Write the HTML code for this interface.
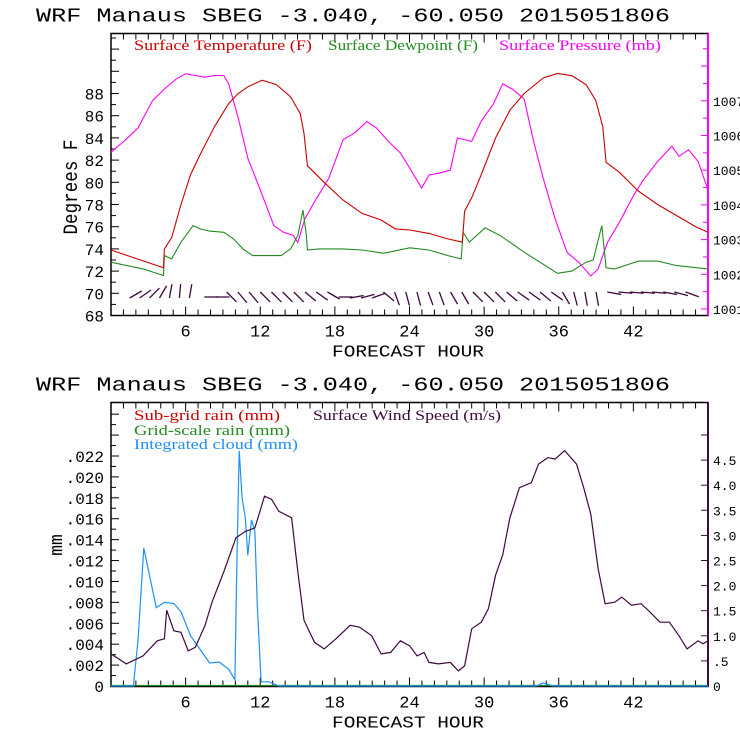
<!DOCTYPE html>
<html><head><meta charset="utf-8"><style>
html,body{margin:0;padding:0;background:#fff}
svg{display:block}
.t{font-family:"Liberation Mono",monospace;}
.s{font-family:"Liberation Serif",serif;font-size:15px}
</style></head><body>
<svg id="c" width="740" height="740" xmlns="http://www.w3.org/2000/svg">
<g id="top"></g>
<g id="bot"></g>
</svg>
<script>
// ---- top panel data ----
const tempHours=[0,4.21,4.29,4.87,5.63,6.4,7.16,8.31,9.46,10.23,11,12.15,13.3,14.44,15.21,15.52,15.79,17.13,18.66,20.19,21.72,22.87,24.02,25.56,27.09,28.24,28.31,28.43,29,29.77,30.92,32.07,33.22,34.75,35.9,37.05,38.2,38.97,39.54,39.81,40.88,42.41,43.95,45.48,47.01,48];
const tempVals=[73.9,72.3,74,75,78,80.7,82.5,85,87.1,88,88.6,89.2,88.8,87.7,86.2,84.4,81.5,80,78.4,77.2,76.6,75.8,75.7,75.4,74.9,74.6,75.5,77.4,78.6,80.7,84,86.5,88,89.4,89.8,89.6,88.8,87.4,85,81.8,80.9,79.2,78,77,76,75.5];
const dewHours=[0,2.57,4.21,4.29,4.87,5.63,6.21,6.59,7.16,7.93,9.08,9.85,10.61,11.38,12.53,13.68,14.44,15.02,15.44,15.71,15.79,16.74,18.66,20.19,21.92,24.02,25.56,27.09,28.16,28.31,28.81,30.08,31.3,33.22,35.9,37.05,38.2,38.77,39.46,39.81,40.5,42.41,43.95,45.48,48];
const dewVals=[72.8,72.2,71.6,73.4,73.1,74.6,75.5,76.1,75.8,75.6,75.5,74.9,74,73.4,73.4,73.4,74,75.2,77.5,75.2,73.9,74,74,73.9,73.6,74.1,73.9,73.4,73.1,75.5,74.6,75.9,75.2,73.7,71.8,72,72.8,73,76.1,72.3,72.2,72.9,72.9,72.5,72.2];
const presHours=[0,1.03,2.18,3.33,4.29,5.25,6.02,6.78,7.55,8.31,9.08,9.46,10.23,11,11.95,13.1,13.87,14.64,15.02,15.59,16.36,17.51,18.66,19.62,20.57,21.34,22.3,23.26,24.02,24.98,25.56,26.32,27.28,27.85,29,29.77,30.73,31.49,32.26,33.22,33.98,34.75,35.71,36.67,37.62,38.58,39.16,39.92,40.88,42.03,42.8,43.95,45.1,45.67,46.44,47.2,48];
const presVals=[1005.52,1005.83,1006.22,1007.0,1007.34,1007.63,1007.78,1007.73,1007.68,1007.73,1007.73,1007.49,1006.51,1005.35,1004.48,1003.4,1003.21,1003.12,1002.92,1003.6,1004.09,1004.77,1005.88,1006.08,1006.4,1006.22,1005.83,1005.5,1005.06,1004.48,1004.86,1004.91,1005.0,1005.93,1005.83,1006.42,1006.9,1007.49,1007.34,1007.05,1005.83,1004.77,1003.6,1002.63,1002.34,1001.95,1002.15,1002.92,1003.5,1004.28,1004.72,1005.25,1005.69,1005.4,1005.59,1005.25,1004.43];
const barbHours=[1.5,2.3,3.1,3.9,4.7,5.5,6.3,7.5,8.4,9.3,10.2,11.1,12,12.9,13.8,14.7,15.6,16.5,17.4,18.3,19.2,20.1,21,21.9,22.8,23.7,24.6,25.5,26.4,27.3,28.2,29.1,30,30.9,31.8,32.7,33.6,34.5,35.4,36.3,37.2,38.1,39,39.9,40.8,41.7,42.6,43.5,44.4,45.3,46.2];
const barbAngles=[-30,-35,-45,-60,-80,-85,-80,0,0,45,50,50,45,45,45,45,40,35,30,0,-10,-15,-20,40,70,75,75,70,70,60,60,45,45,45,40,35,35,40,35,60,75,80,80,10,5,5,5,5,10,15,20];
const leftTicks=[68,70,72,74,76,78,80,82,84,86,88];
const rightTicks=[1001,1002,1003,1004,1005,1006,1007];
const hourTicks=[6,12,18,24,30,36,42];
// ---- bottom panel data ----
const windHours=[0,1.23,2.57,3.72,4.29,4.48,5.06,5.63,6.21,6.78,7.55,8.12,9.08,10.04,10.8,11.57,12.34,12.91,13.49,14.52,15.02,15.52,16.36,17.13,18.08,19.23,20,20.96,21.72,22.49,23.26,24.02,24.6,25.17,25.56,26.32,27.28,27.93,28.43,29,29.77,30.34,30.92,31.49,32.07,32.84,33.79,34.37,35.13,35.71,36.48,37.43,38.01,38.58,39.16,39.73,40.5,41.07,41.84,42.61,43.18,44.14,44.9,45.67,46.32,47.2,47.59,48];
const windVals=[0.64,0.44,0.6,0.9,0.94,1.51,1.1,1.07,0.7,0.77,1.2,1.67,2.28,2.95,3.08,3.15,3.78,3.72,3.48,3.35,2.28,1.31,0.87,0.74,0.94,1.21,1.17,1.0,0.64,0.67,0.9,0.8,0.6,0.67,0.47,0.44,0.47,0.3,0.4,1.14,1.27,1.54,2.21,2.61,3.35,3.95,4.05,4.42,4.55,4.52,4.69,4.42,3.95,3.42,2.34,1.64,1.67,1.77,1.61,1.64,1.51,1.27,1.27,1.0,0.74,0.9,0.84,0.9];
const cloudHours=[0,1.8,2.18,2.64,3.14,3.64,4.29,5.06,5.63,6.4,7.16,7.93,8.7,9.46,9.96,10.11,10.31,10.54,10.8,11,11.3,11.57,11.76,12.07,12.72,13.49,34.18,34.75,35.52,48];
const cloudVals=[0,0,0.0045,0.0132,0.0103,0.0075,0.008,0.0079,0.0071,0.0048,0.0035,0.0022,0.0023,0.0016,0.0006,0.0109,0.0225,0.018,0.0161,0.0125,0.0159,0.0148,0.0077,0.0004,0.0004,0,0,0.0003,0,0];
const mmTicks=[0,.002,.004,.006,.008,.010,.012,.014,.016,.018,.020,.022];
const mmLabels=["0",".002",".004",".006",".008",".010",".012",".014",".016",".018",".020",".022"];
const wsTicks=[0,0.5,1,1.5,2,2.5,3,3.5,4,4.5];
const wsLabels=["0",".5","1.0","1.5","2.0","2.5","3.0","3.5","4.0","4.5"];

const NS="http://www.w3.org/2000/svg";
function mk(parent,tag,attrs,txt){const e=document.createElementNS(NS,tag);for(const k in attrs)e.setAttribute(k,attrs[k]);if(txt!==undefined)e.textContent=txt;parent.appendChild(e);return e;}
const L=111,R=708;
const X=h=>L+h*(R-L)/48;
function pathOf(hs,vs,fy){return hs.map((h,i)=>(i?'L':'M')+X(h).toFixed(1)+' '+fy(vs[i]).toFixed(1)).join(' ');}

function panel(g,top,bottom,tickColR){
  let e=mk(g,'text',{x:36,y:top-12,'font-size':19,class:'t',textLength:634,lengthAdjust:'spacingAndGlyphs'},'WRF  Manaus SBEG   -3.040, -60.050  2015051806');
  
  e=mk(g,'rect',{x:L,y:top,width:R-L,height:bottom-top,fill:'none',stroke:'#000','stroke-width':1.5});
  
  e=mk(g,'line',{x1:R,y1:top,x2:R,y2:bottom,stroke:tickColR,'stroke-width':2});
  
  for(let h=1;h<48;h++){const x=X(h);const len=(h%6==0)?9:6;
    mk(g,'line',{x1:x,y1:bottom,x2:x,y2:bottom-len,stroke:'#000'});
    mk(g,'line',{x1:x,y1:top,x2:x,y2:top+len,stroke:'#000'});}
  hourTicks.forEach(h=>{const t=mk(g,'text',{x:X(h),y:bottom+21,'font-size':17,'text-anchor':'middle',class:'t'},String(h));
    });
  e=mk(g,'text',{x:408,y:bottom+41,'font-size':17,'text-anchor':'middle',class:'t',textLength:152,lengthAdjust:'spacingAndGlyphs'},'FORECAST HOUR');
  
}
function legend(g,txt,x,y,w,col,name){
  const t=mk(g,'text',{x:x,y:y,fill:col,class:'s',textLength:w,lengthAdjust:'spacingAndGlyphs'},txt);
  
}

// ---- TOP ----
const gT=document.getElementById('top');
const T0=33.5,T1=315.5;
const YF=f=>315.5-(f-68)*11.1;
const YP=p=>309-(p-1001)*34.7;
panel(gT,T0,T1,"#ff00ff");
for(let f=68;f<=93;f++){const y=YF(f);if(y<T0)break;mk(gT,'line',{x1:L,y1:y,x2:L+(f%2==0?8:5),y2:y,stroke:'#000'});}
for(let p=1001;p<=1008.5;p+=0.5){const y=YP(p);if(y<T0)break;mk(gT,'line',{x1:R,y1:y,x2:R-(p%1==0?7:5),y2:y,stroke:'#ff00ff'});}
leftTicks.forEach(v=>{const t=mk(gT,'text',{x:104,y:YF(v)+6,'font-size':16,'text-anchor':'end',class:'t'},String(v));
  });
rightTicks.forEach(v=>{const t=mk(gT,'text',{x:713,y:YP(v)+5,'font-size':13,class:'t'},String(v));
  });
let e=mk(gT,'text',{x:0,y:0,'font-size':20,'text-anchor':'middle',class:'t',transform:'translate(77,187) rotate(-90)',textLength:95,lengthAdjust:'spacingAndGlyphs'},'Degrees F');

legend(gT,'Surface Temperature (F)',134,50,178,'#cc0000','legend-temperature');
legend(gT,'Surface Dewpoint (F)',328,50,150,'#228b22','legend-dewpoint');
legend(gT,'Surface Pressure (mb)',499,50,162,'#ff00ff','legend-pressure');
e=mk(gT,'path',{d:pathOf(presHours,presVals,YP),fill:'none',stroke:'#ff00ff','stroke-width':1.1});

e=mk(gT,'path',{d:pathOf(dewHours,dewVals,YF),fill:'none',stroke:'#228b22','stroke-width':1.1});

e=mk(gT,'path',{d:pathOf(tempHours,tempVals,YF),fill:'none',stroke:'#cc0000','stroke-width':1.1});

const gB=mk(gT,'g',{stroke:'#3d0a3d','stroke-width':1.3});

barbHours.forEach((h,i)=>{const a=barbAngles[i]*Math.PI/180;const x=X(h);
  const y=a<0?298:(a===0?297:292);
  const x2=x+Math.cos(a)*14,y2=y+Math.sin(a)*14;
  const b=mk(gB,'line',{x1:x,y1:y,x2:x2,y2:y2});
  });

// ---- BOTTOM ----
const gBt=document.getElementById('bot');
const B0=402.5,B1=686.5;
const YM=m=>686-m*10455;
const YW=w=>686-w*50.2;
panel(gBt,B0,B1,"#3d0a3d");
for(let k=0;k<=26;k++){const y=YM(k*0.001);if(y<B0)break;mk(gBt,'line',{x1:L,y1:y,x2:L+(k%2==0?8:5),y2:y,stroke:'#000'});}
for(let k=0;k<=10;k++){const y=YW(k*0.5);if(y<B0)break;mk(gBt,'line',{x1:R,y1:y,x2:R-7,y2:y,stroke:'#3d0a3d'});}
mmTicks.forEach((v,i)=>{const t=mk(gBt,'text',{x:104,y:YM(v)+6,'font-size':16,'text-anchor':'end',class:'t'},mmLabels[i]);
  });
wsTicks.forEach((v,i)=>{const t=mk(gBt,'text',{x:713,y:YW(v)+5,'font-size':13,class:'t'},wsLabels[i]);
  });
e=mk(gBt,'text',{x:0,y:0,'font-size':18,'text-anchor':'middle',class:'t',transform:'translate(62,545) rotate(-90)'},'mm');

legend(gBt,'Sub-grid rain (mm)',134,420,146,'#cc0000','legend-subgrid-rain');
legend(gBt,'Surface Wind Speed (m/s)',313,420,188,'#3d0a3d','legend-wind-speed');
legend(gBt,'Grid-scale rain (mm)',134,435,156,'#228b22','legend-gridscale-rain');
legend(gBt,'Integrated cloud (mm)',134,449,164,'#1e90ff','legend-cloud');
e=mk(gBt,'line',{x1:L,y1:685.5,x2:R,y2:685.5,stroke:'#228b22','stroke-width':1.2});

e=mk(gBt,'path',{d:pathOf(cloudHours,cloudVals,YM),fill:'none',stroke:'#1e90ff','stroke-width':1.2});

e=mk(gBt,'path',{d:pathOf(windHours,windVals,YW),fill:'none',stroke:'#3d0a3d','stroke-width':1.2});

</script>
</body></html>
